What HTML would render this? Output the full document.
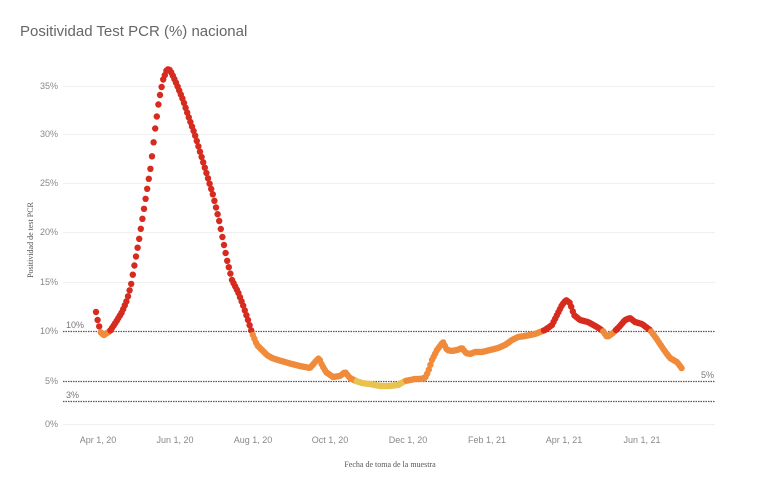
<!DOCTYPE html><html><head><style>body{margin:0;background:#fff}svg{display:block;font-family:"Liberation Sans",sans-serif}</style></head><body>
<svg id="s" width="784" height="503" xmlns="http://www.w3.org/2000/svg">
<text x="20" y="36" font-size="15" fill="#666">Positividad Test PCR (%) nacional</text>
<g stroke="#f0f0f0" stroke-width="1">
<line x1="63" x2="715" y1="86.5" y2="86.5"/><line x1="63" x2="715" y1="134.5" y2="134.5"/><line x1="63" x2="715" y1="183.5" y2="183.5"/><line x1="63" x2="715" y1="232.5" y2="232.5"/><line x1="63" x2="715" y1="282.5" y2="282.5"/><line x1="63" x2="715" y1="424.5" y2="424.5"/>
</g>
<g font-size="9" fill="#888" text-anchor="end">
<text x="58" y="89">35%</text><text x="58" y="137">30%</text><text x="58" y="186">25%</text><text x="58" y="235">20%</text><text x="58" y="285">15%</text><text x="58" y="334">10%</text><text x="58" y="384">5%</text><text x="58" y="427">0%</text>
</g>
<g font-size="9" fill="#888" text-anchor="middle">
<text x="98" y="443">Apr 1, 20</text><text x="175" y="443">Jun 1, 20</text><text x="253" y="443">Aug 1, 20</text><text x="330" y="443">Oct 1, 20</text><text x="408" y="443">Dec 1, 20</text><text x="487" y="443">Feb 1, 21</text><text x="564" y="443">Apr 1, 21</text><text x="642" y="443">Jun 1, 21</text>
</g>
<text x="390" y="467" font-size="8" fill="#555" text-anchor="middle" font-family="Liberation Serif,serif">Fecha de toma de la muestra</text>
<text transform="translate(33,240) rotate(-90)" font-size="8" fill="#555" text-anchor="middle" font-family="Liberation Serif,serif">Positividad de test PCR</text>
<g stroke="#555" stroke-width="1.3" stroke-dasharray="1.5 1">
<line x1="63" x2="715" y1="331.5" y2="331.5"/><line x1="63" x2="715" y1="381.5" y2="381.5"/><line x1="63" x2="715" y1="401.5" y2="401.5"/>
</g>
<g font-size="9" fill="#777"><text x="66" y="328">10%</text><text x="701" y="378">5%</text><text x="66" y="398">3%</text></g>
<g id="d"></g>
</svg>
<script>
var P=[[96,312],[98,322],[101,333],[104,335],[110,331],[116,322],[122,312],[127,300],[131,285],[135,262],[139,240],[143,215],[147,190],[151,165],[155,130],[159,100],[163,80],[167,69],[170,70],[173,76],[177,85],[183,100],[189,118],[195,135],[201,155],[207,175],[213,195],[219,220],[223,240],[227,260],[232,280],[238,292],[243,305],[248,320],[252,333],[257,345],[262,350],[267,355],[272,358],[278,360],[285,362],[292,364],[300,366],[310,368],[316,361],[319,358],[322,365],[326,372],[333,377],[340,376],[345,372],[350,378],[356,381],[362,383],[370,384],[380,386],[390,386],[398,385],[405,381],[415,379],[420,379],[425,378],[428,372],[432,360],[437,350],[443,342],[447,350],[452,351],[457,350],[462,348],[466,353],[470,354],[475,352],[482,352],[490,350],[498,348],[505,345],[512,340],[518,337],[525,336],[535,334],[545,330],[552,325],[557,315],[562,305],[566,300],[570,303],[574,315],[580,320],[588,322],[597,327],[603,331],[607,337],[613,333],[620,326],[625,320],[630,318],[635,322],[642,324],[650,330],[656,338],[664,350],[670,358],[677,362],[683,370]];
function yAt(x){for(var i=0;i<P.length-1;i++){if(x<=P[i+1][0]){var a=P[i],b=P[i+1];return a[1]+(b[1]-a[1])*(x-a[0])/(b[0]-a[0]);}}return P[P.length-1][1];}
var h='';
for(var x=96;x<=683;x+=1.6){var y=yAt(x);var c=y<331?'#d62b1f':(y<381?'#ef8b3b':'#e9c24f');
h+='<circle cx="'+x.toFixed(1)+'" cy="'+y.toFixed(1)+'" r="3.2" fill="'+c+'"/>';}
document.getElementById('d').innerHTML=h;
</script>
</body></html>
